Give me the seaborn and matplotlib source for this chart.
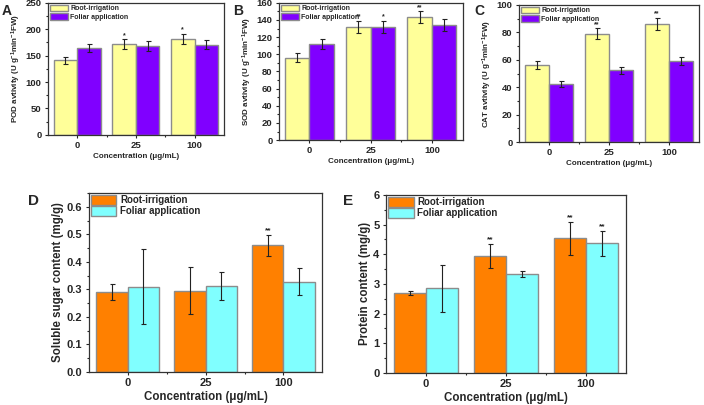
import matplotlib
matplotlib.use('Agg')
import matplotlib.pyplot as plt
import seaborn as sns
import pandas as pd

# Data
concentrations = ['0', '25', '100']
treatments = ['Root-irrigation', 'Foliar application']

pod_root = [141, 172, 182]
pod_root_err = [7, 9, 9]
pod_foliar = [165, 168, 171]
pod_foliar_err = [8, 9, 9]
pod_root_sig = ['', '*', '*']
pod_foliar_sig = ['', '', '']

sod_root = [96, 132, 143]
sod_root_err = [5, 7, 7]
sod_foliar = [112, 132, 134]
sod_foliar_err = [6, 7, 7]
sod_root_sig = ['', '**', '**']
sod_foliar_sig = ['', '*', '']

cat_root = [56, 79, 86]
cat_root_err = [3, 4, 4.5]
cat_foliar = [42.5, 52.5, 59]
cat_foliar_err = [2, 2.5, 3]
cat_root_sig = ['', '**', '**']
cat_foliar_sig = ['', '', '']

sugar_root = [0.29, 0.295, 0.46]
sugar_root_err = [0.028, 0.085, 0.038]
sugar_foliar = [0.31, 0.312, 0.328]
sugar_foliar_err = [0.135, 0.052, 0.05]
sugar_root_sig = ['', '', '**']
sugar_foliar_sig = ['', '', '']

protein_root = [2.7, 3.95, 4.54]
protein_root_err = [0.07, 0.4, 0.56]
protein_foliar = [2.85, 3.32, 4.37]
protein_foliar_err = [0.79, 0.1, 0.42]
protein_root_sig = ['', '**', '**']
protein_foliar_sig = ['', '', '**']

top_colors = ['#FFFF99', '#8000FF']
bottom_colors = ['#FF8000', '#80FFFF']

sns.set_style('ticks')
plt.rcParams['font.family'] = ['Liberation Sans', 'DejaVu Sans']
plt.rcParams['font.weight'] = 'bold'
plt.rcParams['axes.labelweight'] = 'bold'
plt.rcParams['mathtext.fontset'] = 'custom'
plt.rcParams['mathtext.rm'] = 'Liberation Sans:bold'
plt.rcParams['mathtext.it'] = 'Liberation Sans:bold'
plt.rcParams['mathtext.bf'] = 'Liberation Sans:bold'


def draw_panel(ax, root, root_err, foliar, foliar_err, root_sig, foliar_sig,
               colors, ylim, yticks, ylabel, fs_tick, fs_label, fs_leg, fs_star):
    df = pd.DataFrame({
        'conc': concentrations * 2,
        'value': root + foliar,
        'err': root_err + foliar_err,
        'sig': root_sig + foliar_sig,
        'treatment': [treatments[0]] * 3 + [treatments[1]] * 3,
    })
    sns.barplot(data=df, x='conc', y='value', hue='treatment', order=concentrations,
                hue_order=treatments, palette=colors, saturation=1, errorbar=None,
                edgecolor='#8c8c8c', linewidth=1, width=0.8, ax=ax)
    span = ylim[1] - ylim[0]
    for cont, t in zip(ax.containers, treatments):
        sub = df[df['treatment'] == t]
        xs = [p.get_x() + p.get_width() / 2 for p in cont.patches]
        ys = [p.get_height() for p in cont.patches]
        ax.errorbar(xs, ys, yerr=sub['err'].values, fmt='none', ecolor='#222222',
                    elinewidth=0.8, capsize=1.8, capthick=0.8)
        for x, y, e, s in zip(xs, ys, sub['err'].values, sub['sig'].values):
            if s:
                ax.text(x, y + e + span * 0.003, s, ha='center', va='bottom',
                        fontsize=fs_star)
    ax.set_xlim(-0.5, 2.5)
    ax.set_ylim(*ylim)
    ax.set_yticks(yticks)
    ax.yaxis.set_minor_locator(matplotlib.ticker.AutoMinorLocator(2))
    ax.xaxis.set_minor_locator(matplotlib.ticker.FixedLocator([0.5, 1.5]))
    ax.tick_params(axis='both', which='major', length=2.5, width=0.8,
                   labelsize=fs_tick, pad=2)
    ax.tick_params(axis='both', which='minor', length=1.5, width=0.8)
    for sp in ax.spines.values():
        sp.set_visible(True)
        sp.set_linewidth(0.9)
        sp.set_color('#333333')
    ax.set_xlabel('Concentration (\u03bcg/mL)', fontsize=fs_label, labelpad=2)
    ax.set_ylabel(ylabel, fontsize=fs_label, labelpad=2)
    handles, labels = ax.get_legend_handles_labels()
    ax.legend(handles, labels, loc='upper left', frameon=False, fontsize=fs_leg,
              handlelength=2.6, handleheight=1.1, labelspacing=0.1,
              handletextpad=0.4, borderaxespad=0.15, borderpad=0.1)


fig = plt.figure(figsize=(7.04, 4.05), dpi=100)
ax_a = fig.add_axes([0.068, 0.667, 0.250, 0.326])
ax_b = fig.add_axes([0.396, 0.654, 0.261, 0.339])
ax_c = fig.add_axes([0.737, 0.649, 0.256, 0.339])
ax_d = fig.add_axes([0.126, 0.0815, 0.332, 0.442])
ax_e = fig.add_axes([0.548, 0.079, 0.341, 0.440])

unit = ' (U g$^{-1}$min$^{-1}$FW)'
draw_panel(ax_a, pod_root, pod_root_err, pod_foliar, pod_foliar_err, pod_root_sig,
           pod_foliar_sig, top_colors, (0, 250), range(0, 251, 50),
           'POD avtivity' + unit, 6.8, 5.8, 5, 5)
draw_panel(ax_b, sod_root, sod_root_err, sod_foliar, sod_foliar_err, sod_root_sig,
           sod_foliar_sig, top_colors, (0, 160), range(0, 161, 20),
           'SOD avtivity' + unit, 6.8, 5.8, 5, 5)
draw_panel(ax_c, cat_root, cat_root_err, cat_foliar, cat_foliar_err, cat_root_sig,
           cat_foliar_sig, top_colors, (0, 100), range(0, 101, 20),
           'CAT avtivity' + unit, 6.8, 5.8, 5, 5)
draw_panel(ax_d, sugar_root, sugar_root_err, sugar_foliar, sugar_foliar_err,
           sugar_root_sig, sugar_foliar_sig, bottom_colors, (0, 0.65),
           [0.0, 0.1, 0.2, 0.3, 0.4, 0.5, 0.6], 'Soluble sugar content (mg/g)',
           8, 8.3, 7, 6)
draw_panel(ax_e, protein_root, protein_root_err, protein_foliar, protein_foliar_err,
           protein_root_sig, protein_foliar_sig, bottom_colors, (0, 6),
           range(0, 7), 'Protein content (mg/g)', 8, 8.3, 7, 6)
ax_d.yaxis.set_major_formatter(matplotlib.ticker.FormatStrFormatter('%.1f'))

for label, x, y, fs in [('A', 0.002, 0.99, 10), ('B', 0.331, 0.99, 10),
                        ('C', 0.674, 0.99, 10), ('D', 0.04, 0.52, 11),
                        ('E', 0.487, 0.52, 11)]:
    fig.text(x, y, label, ha='left', va='top', fontsize=fs, fontweight='bold')

fig.savefig('out.png', dpi=100)
